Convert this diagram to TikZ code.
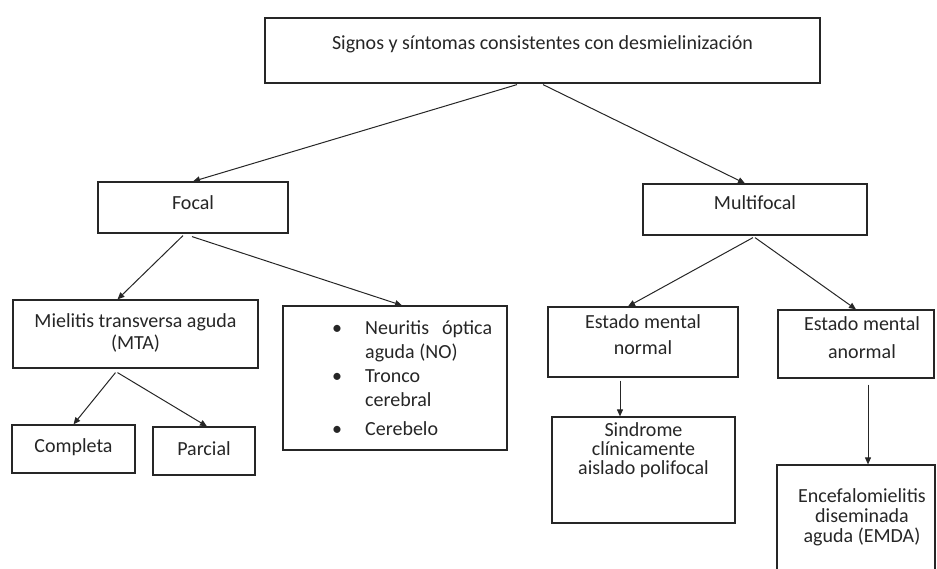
\documentclass[tikz,border=0pt]{standalone}
\usepackage{fontspec}
\setmainfont{Carlito}
\usetikzlibrary{arrows.meta}
\begin{document}
\begin{tikzpicture}[x=1pt,y=-1pt,
  box/.style={draw=black!85, line width=1.2pt, inner sep=0pt},
  txt/.style={font=\fontsize{20}{24}\selectfont, inner sep=0pt, align=center, text=black!85},
  arr/.style={draw=black!85, line width=1pt, -{Triangle[length=7pt,width=6pt]}}]
\useasboundingbox (0,0) rectangle (937,569);

% boxes
\node[box, minimum width=555pt, minimum height=65pt] (top) at (542.5,50.5) {};
\node[box, minimum width=190pt, minimum height=51pt] (focal) at (193,207.5) {};
\node[box, minimum width=224pt, minimum height=51pt] (multi) at (755,209.5) {};
\node[box, minimum width=245pt, minimum height=68pt] (mta) at (135.5,334) {};
\node[box, minimum width=224pt, minimum height=144pt] (list) at (395,378) {};
\node[box, minimum width=190pt, minimum height=70pt] (normal) at (643,342) {};
\node[box, minimum width=156pt, minimum height=68pt] (anormal) at (856,344) {};
\node[box, minimum width=123pt, minimum height=48pt] (completa) at (73.5,449) {};
\node[box, minimum width=102pt, minimum height=48pt] (parcial) at (204,451) {};
\node[box, minimum width=183pt, minimum height=106pt] (sindrome) at (643.5,470) {};
\node[box, minimum width=158pt, minimum height=140pt] (emda) at (856,535) {};

% texts
\node[txt] (ttop) at (542.5,44) {Signos y síntomas consistentes con desmielinización};
\node[txt] (tfocal) at (193,203) {Focal};
\node[txt] (tmulti) at (755,203) {Multifocal};
\node[txt, font=\fontsize{20}{22}\selectfont] (tmta) at (135.5,333) {Mielitis transversa aguda\\(MTA)};
\node[txt, align=left, anchor=north west] (tlist) at (332,320)
  {\makebox[33pt][l]{\textbullet}Neuritis\hspace{13pt}óptica\\
   \hspace*{33pt}aguda (NO)\\
   \makebox[33pt][l]{\textbullet}Tronco\\
   \hspace*{33pt}cerebral\\[5pt]
   \makebox[33pt][l]{\textbullet}Cerebelo};
\node[txt, font=\fontsize{20}{26}\selectfont] (tnormal) at (643,335) {Estado mental\\normal};
\node[txt, font=\fontsize{20}{28}\selectfont] (tanormal) at (862,338) {Estado mental\\anormal};
\node[txt] (tcompleta) at (73.5,447) {Completa};
\node[txt] (tparcial) at (204,449) {Parcial};
\node[txt, font=\fontsize{20}{19}\selectfont] (tsindrome) at (643.5,450) {Sindrome\\clínicamente\\aislado polifocal};
\node[txt, font=\fontsize{20}{20}\selectfont] (temda) at (862,517) {Encefalomielitis\\diseminada\\aguda (EMDA)};

% connectors
\draw[arr] ([xshift=-25.5pt,yshift=-1pt]top.south) -- (focal.north);
\draw[arr] ([xshift=0.5pt,yshift=-1pt]top.south) -- ([xshift=-10pt]multi.north);
\draw[arr] ([xshift=-10pt,yshift=-2pt]focal.south) -- ([xshift=-18pt]mta.north);
\draw[arr] ([xshift=-1pt,yshift=-3pt]focal.south) -- ([xshift=7pt]list.north);
\draw[arr] ([xshift=-2pt,yshift=-2pt]multi.south) -- ([xshift=-15pt]normal.north);
\draw[arr] ([yshift=-2pt]multi.south) -- (anormal.north);
\draw[arr] ([xshift=-20pt,yshift=-4pt]mta.south) -- (completa.north);
\draw[arr] ([xshift=-18pt,yshift=-4pt]mta.south) -- ([xshift=3pt]parcial.north);
\draw[arr] ([xshift=-23pt,yshift=-3pt]normal.south) -- ([xshift=-23.5pt]sindrome.north);
\draw[arr] ([xshift=12pt,yshift=-6pt]anormal.south) -- ([xshift=12pt]emda.north);
\end{tikzpicture}
\end{document}
